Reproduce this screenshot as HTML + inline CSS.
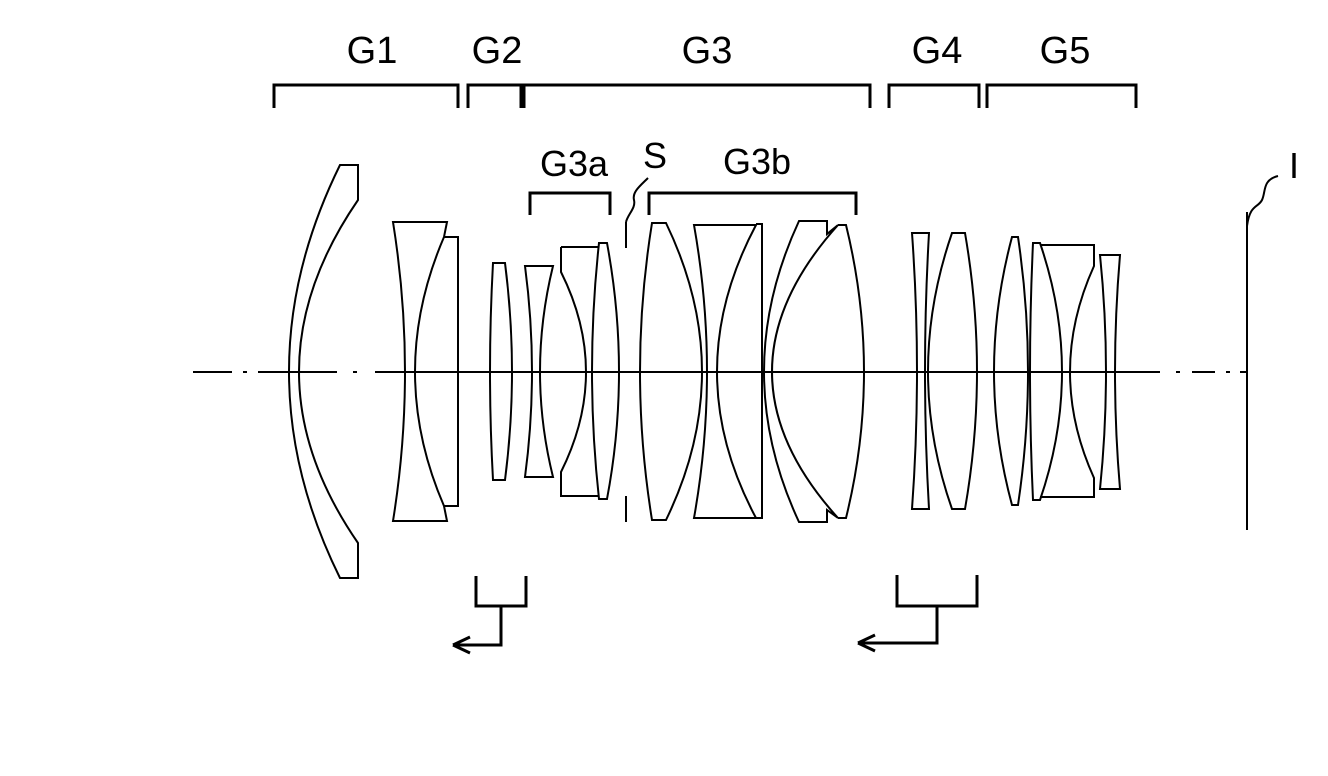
<!DOCTYPE html>
<html><head><meta charset="utf-8"><style>
html,body{margin:0;padding:0;background:#fff;}
svg{display:block;}
text{font-family:"Liberation Sans",sans-serif;fill:#000;}
</style></head><body>
<svg width="1328" height="776" viewBox="0 0 1328 776" xmlns="http://www.w3.org/2000/svg">
<g fill="none" stroke="#000" stroke-width="3">
<!-- top brackets -->
<path d="M274,108 V85 H458 V108"/>
<path d="M468,108 V85 H521 V108"/>
<path d="M524,108 V85 H870 V108"/>
<path d="M889,108 V85 H979 V108"/>
<path d="M987,108 V85 H1136 V108"/>
<path d="M530,215 V193 H610 V215"/>
<path d="M649,215 V193 H856 V215"/>
<!-- bottom brackets -->
<path d="M476,576 V606 H526 V576 M501,606 V645 H455"/>
<path d="M453,645 L470,637 M453,645 L470,653"/>
<path d="M897,575 V606 H977 V575 M937,606 V643 H860"/>
<path d="M858,643 L875,635 M858,643 L875,651"/>
</g>
<g fill="none" stroke="#000" stroke-width="2">
<!-- axis -->
<path d="M193,372 H232 M243,372 H247 M258,372 H337 M353,372 H357 M375,372 H1160 M1176,372 H1180 M1192,372 H1215 M1226,372 H1230 M1240,372 H1247"/>
<!-- G1 -->
<path d="M340,165 L358,165 L358,200 Q240 372 358 543 L358,578 L340,578 Q238 372 340,165 Z"/>
<path d="M393,222 L447,222 L444,237 Q386 372 444 506 L447,521 L393,521 Q417 372 393 222 Z"/>
<path d="M444,237 L458,237 L458,506 L444,506"/>
<!-- G2 -->
<path d="M493,263 L505,263 Q519 372 505 480 L493,480 Q487 372 493 263 Z"/>
<!-- G3a -->
<path d="M525,266 L553,266 Q527 372 553 477 L525,477 Q539 372 525 266 Z"/>
<path d="M561,247 L599,247 M561,247 V272 Q611 372 561 472 V496 H599"/>
<path d="M599,243 L607,243 Q631 372 607 499 L599,499 Q585 372 599 243 Z"/>
<!-- stop -->
<path d="M626,222 V248 M626,496 V522"/>
<path d="M648,178 C640,186 632,192 634,200 C636,208 628,214 626,222"/>
<!-- G3b -->
<path d="M652,223 L666,223 Q738 372 666 520 L652,520 Q628 372 652 223 Z"/>
<path d="M694,225 L756,225 Q678 372 756 518 L694,518 Q720 372 694 225 Z"/>
<path d="M756,224 L762,224 L762,518 L756,518"/>
<path d="M799,221 L827,221 L827,234 L838,225 Q706 372 838 518 L827,510 L827,522 L799,522 Q729 372 799 221 Z"/>
<path d="M838,225 L846,225 Q882 372 846 518 L838,518"/>
<!-- G4 -->
<path d="M912,233 L929,233 Q921 372 929 509 L912,509 Q922 372 912 233 Z"/>
<path d="M952,233 L965,233 Q989 372 965 509 L952,509 Q904 372 952 233 Z"/>
<!-- G5 -->
<path d="M1012,237 L1018,237 Q1038 372 1018 505 L1012,505 Q976 372 1012 237 Z"/>
<path d="M1033,243 L1040,243 Q1084 372 1040 500 L1033,500 Q1027 372 1033 243 Z"/>
<path d="M1040,245 L1094,245 L1094,266 Q1046 372 1094 478 L1094,497 L1040,497"/>
<path d="M1100,255 L1120,255 Q1110 372 1120 489 L1100,489 Q1112 372 1100 255 Z"/>
<!-- image plane -->
<path d="M1247,212 V530"/>
<path d="M1278,176 C1262,180 1266,192 1262,200 C1258,208 1250,204 1247,226"/>
</g>
<g font-size="38">
<text x="372" y="63" text-anchor="middle">G1</text>
<text x="497" y="63" text-anchor="middle">G2</text>
<text x="707" y="63" text-anchor="middle">G3</text>
<text x="937" y="63" text-anchor="middle">G4</text>
<text x="1065" y="63" text-anchor="middle">G5</text>
</g>
<g font-size="36">
<text x="574" y="176" text-anchor="middle">G3a</text>
<text x="655" y="168" text-anchor="middle">S</text>
<text x="757" y="174" text-anchor="middle">G3b</text>
<text x="1294" y="178" text-anchor="middle">I</text>
</g>
</svg>
</body></html>
